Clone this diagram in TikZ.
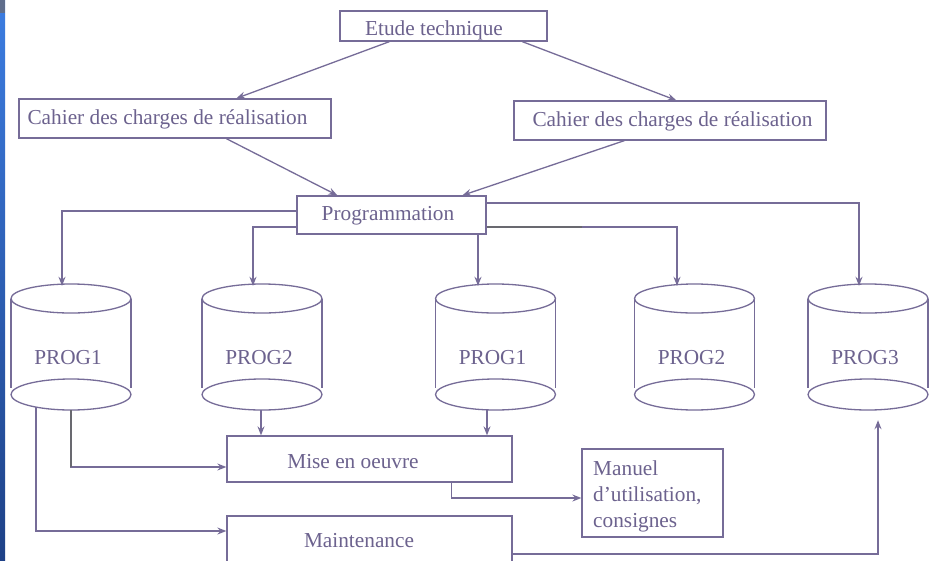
\documentclass[tikz,border=0pt]{standalone}
\usepackage{fontspec}
\setmainfont{Liberation Serif}
\usetikzlibrary{arrows.meta,calc}
\definecolor{ln}{RGB}{118,108,152}
\definecolor{tx}{RGB}{108,98,142}
\definecolor{dk}{RGB}{105,105,112}
\definecolor{stripTop}{RGB}{60,125,225}
\definecolor{stripBot}{RGB}{30,65,135}
\definecolor{stripCap}{RGB}{95,110,140}
\begin{document}
\begin{tikzpicture}[x=1pt,y=-1pt,
  line/.style={draw=ln,line width=1.3pt},
  arr/.style={line,-{Stealth[length=9pt,width=7pt,inset=3pt]}},
  box/.style={line,rectangle,inner sep=0pt},
  cylbox/.style={rectangle,inner sep=0pt,minimum width=120pt,minimum height=127pt},
  lbl/.style={text=tx,font=\fontsize{21.3}{26}\selectfont,inner sep=0pt,anchor=base},
  lblw/.style={lbl,anchor=base west}]
\useasboundingbox (0,0) rectangle (931,560);
\clip (0,0) rectangle (931,560);
\fill[white] (0,0) rectangle (931,560);
% left strip
\shade[top color=stripTop,bottom color=stripBot] (0,0) rectangle (5,560);
\fill[stripCap] (0,0) rectangle (5,13);

% boxes
\node[box,minimum width=207pt,minimum height=30pt] (etude) at (443.5,26) {};
\node[lbl] (tEtude) at (434,35) {Etude technique};
\node[box,minimum width=312pt,minimum height=39pt] (cahL) at (175,118.5) {};
\node[lbl] (tCahL) at (167.5,124) {Cahier des charges de réalisation};
\node[box,minimum width=312pt,minimum height=39pt] (cahR) at (670,120.5) {};
\node[lbl] (tCahR) at (672.5,126.5) {Cahier des charges de réalisation};
\node[box,minimum width=189pt,minimum height=38pt] (prog) at (391.5,215) {};
\node[lbl] (tProg) at (388,220) {Programmation};
\node[box,minimum width=285pt,minimum height=46pt] (mise) at (369.5,459) {};
\node[lbl] (tMise) at (353,468) {Mise en oeuvre};
\node[box,minimum width=285pt,minimum height=46pt] (maint) at (369.5,539) {};
\node[lbl] (tMaint) at (359,547) {Maintenance};
\node[box,minimum width=141pt,minimum height=88pt] (manuel) at (652.5,493) {};
\node[lblw] (tMan1) at (593,475) {Manuel};
\node[lblw] (tMan2) at (593,501.5) {d’utilisation,};
\node[lblw] (tMan3) at (593,527) {consignes};

% cylinders
\foreach \n/\cx/\t in {c1/71/PROG1, c2/262/PROG2, c3/495.5/PROG1, c4/694.5/PROG2, c5/868/PROG3}{
  \node[cylbox] (\n) at (\cx,346.5) {};
  \draw[line] (\cx,298.5) ellipse [x radius=60pt, y radius=14.5pt];
  \draw[line] (\cx,394.5) ellipse [x radius=60pt, y radius=15.5pt];
  \draw[line] (\cx-60,298.5) -- (\cx-60,388) (\cx+60,298.5) -- (\cx+60,388);
  \node[lbl] (t\n) at (\cx-3,364) {\t};
}

% connectors top
\draw[arr] ([xshift=50pt]etude.south west) -- ([xshift=218pt]cahL.north west);
\draw[arr] ([xshift=183pt]etude.south west) -- ([xshift=163pt]cahR.north west);
\draw[arr] ([xshift=208pt]cahL.south west) -- ([xshift=41pt]prog.north west);
\draw[arr] ([xshift=111pt]cahR.south west) -- ([xshift=166pt]prog.north west);

% programmation to cylinders
\draw[arr] ([yshift=4pt]prog.west) -| ([xshift=-9pt,yshift=-3pt]c1.north);
\draw[arr] ([yshift=-12pt]prog.west) -| ([xshift=-9pt,yshift=-3pt]c2.north);
\draw[arr] ([xshift=-17.5pt]c3.north |- prog.south) -- ([xshift=-17.5pt,yshift=-3pt]c3.north);
\draw[arr] ([yshift=-12pt]prog.east) -| ([xshift=-17.5pt,yshift=-3pt]c4.north);
\draw[arr] ([yshift=12pt]prog.east) -| ([xshift=-9pt,yshift=-3pt]c5.north);
\coordinate (dkend) at (582,227);
\draw[draw=dk,line width=1.3pt] ([yshift=-12pt]prog.east) -- (dkend);

% cylinders to bottom boxes
\coordinate (m1) at ([yshift=-8pt]mise.west);
\draw[arr] (c1.south) |- (m1);
\draw[draw=dk,line width=1.3pt] (c1.south) -- (c1.south |- m1);
\draw[arr] ([xshift=-35pt,yshift=3pt]c1.south) |- ([yshift=8pt]maint.west);
\draw[arr] ([xshift=-1pt]c2.south) -- ([xshift=-1pt]c2.south |- mise.north);
\draw[arr] ([xshift=-8.5pt]c3.south) -- ([xshift=-8.5pt]c3.south |- mise.north);
\draw[arr] ([xshift=225pt]mise.south west) |- ([yshift=-5pt]manuel.west);
\draw[arr] ([yshift=-15pt]maint.east) -| ([xshift=10pt,yshift=-10pt]c5.south);
\end{tikzpicture}
\end{document}
